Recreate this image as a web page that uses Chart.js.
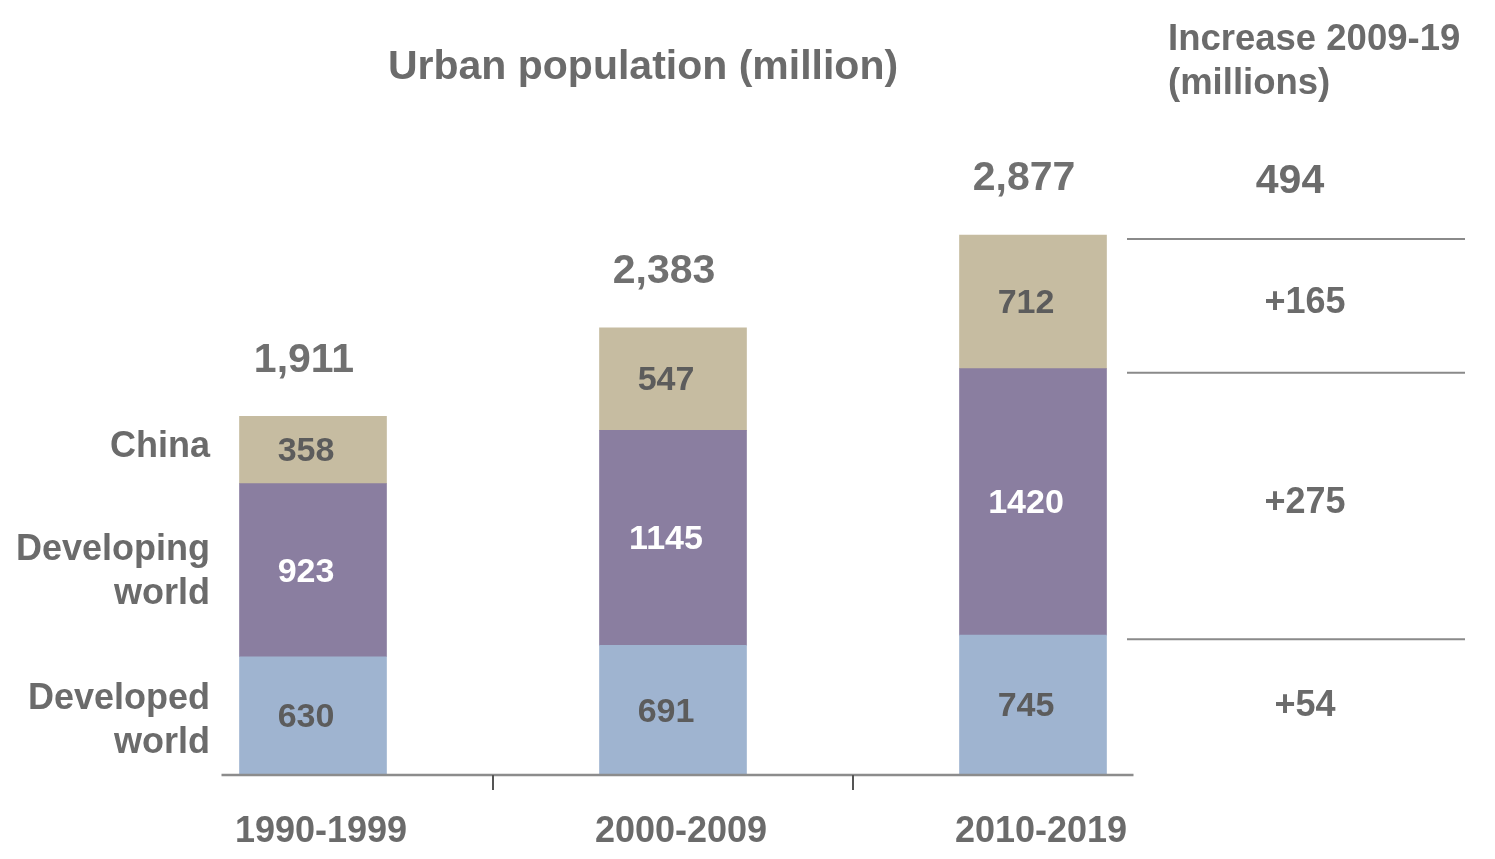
<!DOCTYPE html>
<html>
<head>
<meta charset="utf-8">
<script src="https://cdn.jsdelivr.net/npm/chart.js@4/dist/chart.umd.min.js"></script>
<style>
  html, body { margin: 0; padding: 0; background: #fff; }
  canvas { display: block; }
</style>
</head>
<body>
<canvas id="urban-chart" width="1495" height="859"></canvas>
<script>
// ---- data ----
const periods = ['1990-1999', '2000-2009', '2010-2019'];
const developed = [630, 691, 745];
const developing = [923, 1145, 1420];
const china = [358, 547, 712];
const increaseTotal = '494';
const increaseLabels = ['+54', '+275', '+165']; // developed, developing, china

const FONT = '"Liberation Sans", Arial, sans-serif';
const GREY = '#6b6b6b';

// labels inside bars, totals above, side captions, axis line
const decorations = {
    id: 'decorations',
    afterDatasetsDraw(chart) {
        const ctx = chart.ctx;
        const area = chart.chartArea;
        const metas = [0, 1, 2].map(i => chart.getDatasetMeta(i));
        ctx.save();
        ctx.textAlign = 'center';
        ctx.textBaseline = 'middle';

        // values inside segments
        metas.forEach((meta, di) => {
            const ds = chart.data.datasets[di];
            meta.data.forEach((bar, i) => {
                ctx.font = 'bold 34px ' + FONT;
                ctx.fillStyle = di === 1 ? '#ffffff' : '#5c5c5c';
                ctx.fillText(String(ds.data[i]), bar.x - 7, (bar.y + bar.base) / 2 + 2);
            });
        });

        // totals
        ctx.font = 'bold 41px ' + FONT;
        ctx.fillStyle = '#707070';
        periods.forEach((p, i) => {
            const top = metas[2].data[i];
            const total = developed[i] + developing[i] + china[i];
            ctx.fillText(total.toLocaleString('en-US'), top.x - 9, top.y - 56);
        });

        // left legend labels
        ctx.textAlign = 'right';
        ctx.font = 'bold 36px ' + FONT;
        ctx.fillStyle = GREY;
        const first = metas.map(m => m.data[0]);
        const mid = b => (b.y + b.base) / 2;
        ctx.fillText('China', 210, mid(first[2]) - 3);
        ctx.fillText('Developing', 210, mid(first[1]) - 20);
        ctx.fillText('world', 210, mid(first[1]) + 24);
        ctx.fillText('Developed', 210, mid(first[0]) - 17);
        ctx.fillText('world', 210, mid(first[0]) + 27);

        // title
        ctx.textAlign = 'center';
        ctx.font = 'bold 41px ' + FONT;
        ctx.fillText('Urban population (million)', 643, 68);

        // right panel
        ctx.textAlign = 'left';
        ctx.font = 'bold 36.5px ' + FONT;
        ctx.fillText('Increase 2009-19', 1168, 40);
        ctx.fillText('(millions)', 1168, 84);

        const last = metas.map(m => m.data[m.data.length - 1]);
        ctx.strokeStyle = '#8a8a8a';
        ctx.lineWidth = 2;
        const lineYs = [last[2].y + 4, last[1].y + 4, last[0].y + 4];
        lineYs.forEach(y => {
            ctx.beginPath();
            ctx.moveTo(1127, y);
            ctx.lineTo(1465, y);
            ctx.stroke();
        });

        ctx.textAlign = 'center';
        ctx.font = 'bold 41px ' + FONT;
        ctx.fillText(increaseTotal, 1290, 182);
        ctx.font = 'bold 36px ' + FONT;
        last.forEach((bar, di) => {
            ctx.fillText(increaseLabels[di], 1305, (bar.y + bar.base) / 2 + 1);
        });

        // x axis line + category separators
        const b0 = metas[0].data[0];
        const bN = metas[0].data[periods.length - 1];
        ctx.strokeStyle = '#8c8c8c';
        ctx.lineWidth = 2.5;
        ctx.beginPath();
        ctx.moveTo(b0.x - b0.width / 2 - 18, area.bottom);
        ctx.lineTo(bN.x + bN.width / 2 + 27, area.bottom);
        ctx.stroke();
        ctx.strokeStyle = '#555';
        ctx.lineWidth = 2;
        for (let i = 0; i < periods.length - 1; i++) {
            const x = (metas[0].data[i].x + metas[0].data[i + 1].x) / 2;
            ctx.beginPath();
            ctx.moveTo(x, area.bottom);
            ctx.lineTo(x, area.bottom + 15);
            ctx.stroke();
        }
        ctx.restore();
    }
};

new Chart(document.getElementById('urban-chart'), {
    type: 'bar',
    data: {
        labels: periods,
        datasets: [
            { label: 'Developed world', data: developed, backgroundColor: '#9fb4d0' },
            { label: 'Developing world', data: developing, backgroundColor: '#8a7ea0' },
            { label: 'China', data: china, backgroundColor: '#c6bca1' }
        ]
    },
    options: {
        responsive: false,
        animation: false,
        events: [],
        barThickness: 147,
        layout: { padding: { left: 133, right: 282, top: 212, bottom: 0 } },
        scales: {
            x: {
                stacked: true,
                grid: { display: false },
                border: { display: false },
                ticks: { color: GREY, font: { family: FONT, size: 36, weight: 'bold' }, padding: 27, labelOffset: 8 },
                afterFit(scale) { scale.height = 84; }
            },
            y: {
                stacked: true,
                display: false,
                min: 0,
                max: 3000
            }
        },
        plugins: {
            legend: { display: false },
            tooltip: { enabled: false },
            title: { display: false }
        }
    },
    plugins: [decorations]
});
</script>
</body>
</html>
